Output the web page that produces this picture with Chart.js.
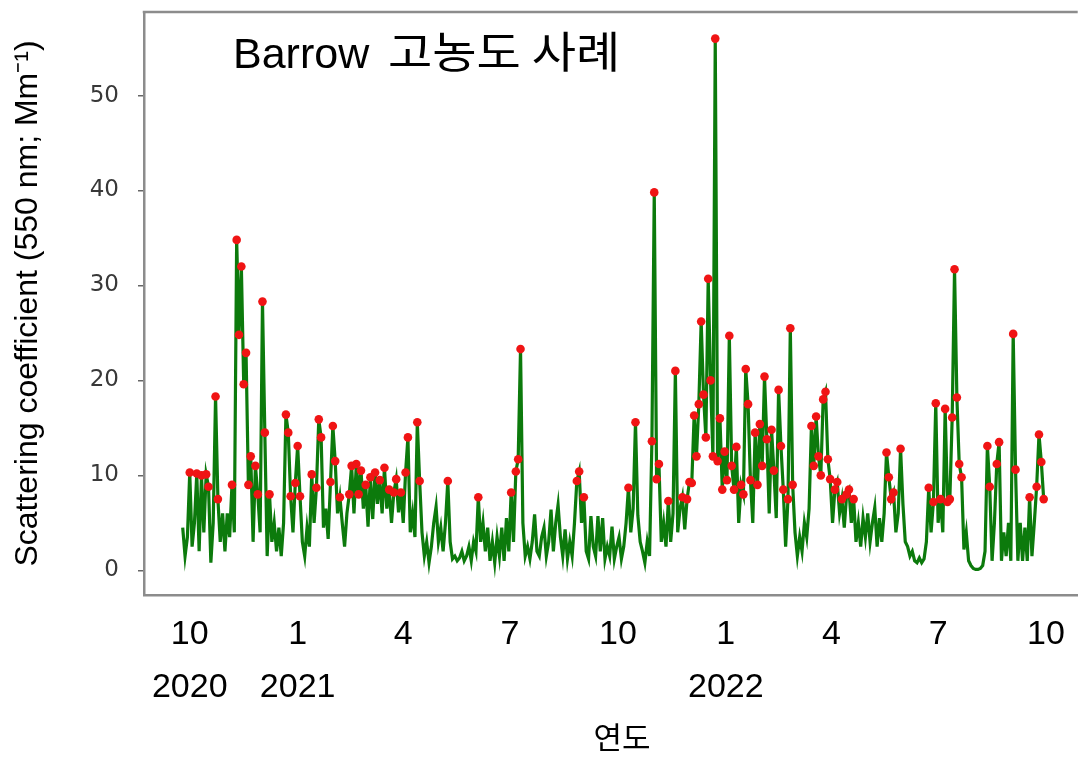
<!DOCTYPE html>
<html>
<head>
<meta charset="utf-8">
<title>Barrow 고농도 사례</title>
<script src="https://cdn.jsdelivr.net/npm/chart.js@4.4.1/dist/chart.umd.min.js"></script>
<style>
  html, body { margin: 0; padding: 0; background: #ffffff; }
  #wrap { width: 1082px; height: 759px; }
</style>
</head>
<body>
<div id="wrap"><canvas id="chart" width="1082" height="759"></canvas></div>
<script>
// Daily scattering coefficient at 550 nm, sampled every second day.
// Day numbers count from 2020-10-01; the series starts on 2020-09-25.
const firstDay = -6;
const stepDays = 2;

const late2020 = [
  4.5, 1.5, 3.5, 10.3, 2.5, 5, 10.2, 2, 10, 4, 10.1, 8.8, 0.8, 5, 18.3, 7.5,
  3, 6, 2, 6, 3.5, 9, 4, 34.8, 24.8, 32, 19.6, 22.9, 9, 12, 3, 11, 8, 4,
  28.3, 14.5, 1.5, 8, 3, 5, 2, 4.5, 1.5, 5, 16.4, 14.5
];
const winter2021 = [
  7.8, 4, 9.2, 13.1, 7.8, 3, 1.5, 4.5, 2.5, 10.1, 5, 8.7, 15.9, 14, 4.5, 6.5,
  3.3, 9.3, 15.2, 11.5, 6, 7.7, 5, 2.5, 6, 8, 11, 6, 11.2, 8, 10.5, 6.5, 9,
  4.6, 9.8, 5.4, 10.3, 7, 9.5, 6, 10.8, 6.5, 8.5, 5, 8.2, 9.6, 6.1, 8.2, 5
];
const summer2021 = [
  10.3, 14, 4, 6, 3.5, 15.6, 9.4, 4, 1.5, 3, 0.8, 2.5, 5, 6.7, 3, 4.5, 2, 5,
  9.4, 3, 1.2, 1.5, 1, 1.3, 2, 1, 1.5, 2.5, 1, 3, 2, 7.7, 3, 5, 2, 4.5, 1, 3,
  0.8, 3.5, 1.5, 4.5, 1, 5.5, 2, 8.2, 3, 10.4, 11.7, 23.3, 5, 1.5
];
const autumn2021 = [
  2.5, 1.2, 3, 5.9, 2, 1.5, 3.5, 4.5, 1.5, 3, 6.4, 2, 5, 6.9, 3.5, 1.5, 4.3,
  1.2, 3, 1.5, 5, 9.4, 10.4, 5, 7.7, 2, 1.2, 5.7, 2.5, 1.5, 5.7, 2, 5.5, 1.2,
  2.5, 1.5, 4.6, 1.2, 2.5, 3.5, 1.2, 2.5, 5, 8.7, 4, 6.5, 15.6
];
const lateAutumn2021 = [
  5.8, 3, 2, 0.8, 3, 1.5, 13.6, 39.8, 9.6, 11.2, 3, 5, 2.5, 7.3, 3, 6, 21, 4,
  6.5, 7.7, 4.3, 7.5, 9.3, 9.2, 16.3, 12, 17.5, 26.2, 18.5, 14, 30.7, 20, 12,
  56, 11.5, 16, 8.5, 12.5, 9.5, 24.7
];
const winter2022 = [
  11, 8.5, 13, 5, 9, 8, 21.2, 17.5, 9.5, 5, 14.5, 9, 15.4, 11, 20.4, 13.8, 6,
  14.8, 10.5, 5.5, 19, 13.1, 8.5, 2.5, 7.5, 25.5, 9, 4, 1.5, 3.5, 2, 5, 3.5,
  6.5, 15.2, 11, 16.2, 12, 10, 18, 18.8, 11.7, 9.6, 5, 8.5, 9.3, 6, 7.5, 4.5, 8
];
const spring2022 = [
  8.5, 5, 7.5, 3, 5, 2.5, 5.5, 3.5, 6, 3, 5, 6.6, 2.5, 5.5, 3, 6, 12.4, 9.8,
  7.5, 8.2, 4, 6, 12.8, 7, 3, 2.5, 1.5, 2, 1, 0.8, 1.3, 0.8, 1.2, 3, 8.7, 4,
  7.2, 17.6, 5, 7.5, 4, 17, 7.2, 7.5, 16.1, 31.7, 18.2, 11.2, 9.8, 2.2
];
const summer2022 = [
  4, 1, 0.5, 0.2, 0.1, 0.1, 0.2, 0.5, 2, 13.1, 8.8, 1, 5, 11.2, 13.5, 1, 4,
  1.5, 5, 1, 24.9, 10.6, 1, 5, 1, 4.5, 1, 7.7, 1.5, 5, 8.8, 14.3, 11.4, 7.5
];

const scattering = [].concat(late2020, winter2021, summer2021, autumn2021,
  lateAutumn2021, winter2022, spring2022, summer2022);
const dayNumbers = scattering.map((_, i) => firstDay + i * stepDays);

// Days above this level are marked as high-concentration cases.
const highThreshold = 7.2;

// Axis ticks
const monthTickDays = [0, 92, 182, 273, 365, 457, 547, 638, 730];
const monthLabels = ['10', '1', '4', '7', '10', '1', '4', '7', '10'];
const yearLabels = ['2020', '2021', '', '', '', '2022', '', '', ''];
const yTicks = [0, 10, 20, 30, 40, 50];

const stationName = 'Barrow';
const headingKo = '고농도 사례';
const yTitle = 'Scattering coefficient (550 nm; Mm⁻¹)';
const xTitle = '연도';

const latin = '"Liberation Sans", Arial, "Noto Sans CJK KR", sans-serif';
const spineColor = '#8c8c8c';

// Top spine, the in-plot heading and the x-axis title
const frameAndHeading = {
  id: 'frameAndHeading',
  afterDraw(chart) {
    const { ctx, chartArea: a } = chart;
    ctx.save();
    ctx.strokeStyle = spineColor;
    ctx.lineWidth = 2.5;
    ctx.beginPath();
    ctx.moveTo(a.left - 1.25, a.top);
    ctx.lineTo(a.right, a.top);
    ctx.stroke();

    ctx.fillStyle = '#000';
    ctx.textBaseline = 'alphabetic';
    ctx.textAlign = 'left';
    const hx = a.left + 89, hy = a.top + 56;
    ctx.font = '43px ' + latin;
    ctx.fillText(stationName, hx, hy);
    // the Hangul part of the heading is set slightly wider
    ctx.save();
    ctx.translate(hx + 155, hy);
    ctx.scale(1.12, 1);
    ctx.font = '43px "Noto Sans CJK KR", sans-serif';
    ctx.fillText(headingKo, 0, 0);
    ctx.restore();

    ctx.font = '31px "Noto Sans CJK KR", sans-serif';
    ctx.textAlign = 'center';
    ctx.textBaseline = 'middle';
    ctx.fillText(xTitle, a.left + 478, 737);
    ctx.restore();
  }
};

new Chart(document.getElementById('chart'), {
  type: 'line',
  data: {
    datasets: [{
      data: dayNumbers.map((d, i) => ({ x: d, y: scattering[i] })),
      borderColor: '#0c7a0c',
      borderWidth: 3.2,
      tension: 0,
      fill: false,
      pointRadius: c => (c.raw && c.raw.y >= highThreshold ? 4.3 : 0),
      pointHoverRadius: 0,
      pointBackgroundColor: '#f01414',
      pointBorderWidth: 0
    }]
  },
  options: {
    responsive: false,
    animation: false,
    events: [],
    layout: { padding: { top: 12, right: 0, bottom: 0, left: 0 } },
    plugins: { legend: { display: false }, tooltip: { enabled: false } },
    scales: {
      x: {
        type: 'linear',
        min: -39,
        max: 757,
        afterBuildTicks: s => { s.ticks = monthTickDays.map(v => ({ value: v })); },
        afterFit: s => { s.height = 164; s.paddingLeft = 0; s.paddingRight = 0; },
        grid: { display: false, drawTicks: false },
        border: { display: true, color: spineColor, width: 2.5 },
        ticks: {
          autoSkip: false,
          maxRotation: 0,
          padding: 13,
          color: '#000',
          font: { family: latin, size: 34, lineHeight: 1.56 },
          callback: (v, i) => [monthLabels[i], yearLabels[i]]
        }
      },
      y: {
        min: -2.6,
        max: 58.8,
        afterBuildTicks: s => { s.ticks = yTicks.map(v => ({ value: v })); },
        afterFit: s => { s.width = 144; s.paddingTop = 0; s.paddingBottom = 0; },
        grid: { drawOnChartArea: false, drawTicks: true, tickLength: 6, color: '#666', lineWidth: 1.5 },
        border: { display: true, color: spineColor, width: 2.5 },
        ticks: {
          padding: 19,
          color: '#383838',
          font: { family: '"DejaVu Sans", sans-serif', size: 23, lineHeight: 1 }
        },
        title: {
          display: true,
          text: yTitle,
          color: '#000',
          font: { family: latin, size: 32, lineHeight: 1.2 },
          padding: { top: 9, bottom: 0 }
        }
      }
    }
  },
  plugins: [frameAndHeading]
});
</script>
</body>
</html>
